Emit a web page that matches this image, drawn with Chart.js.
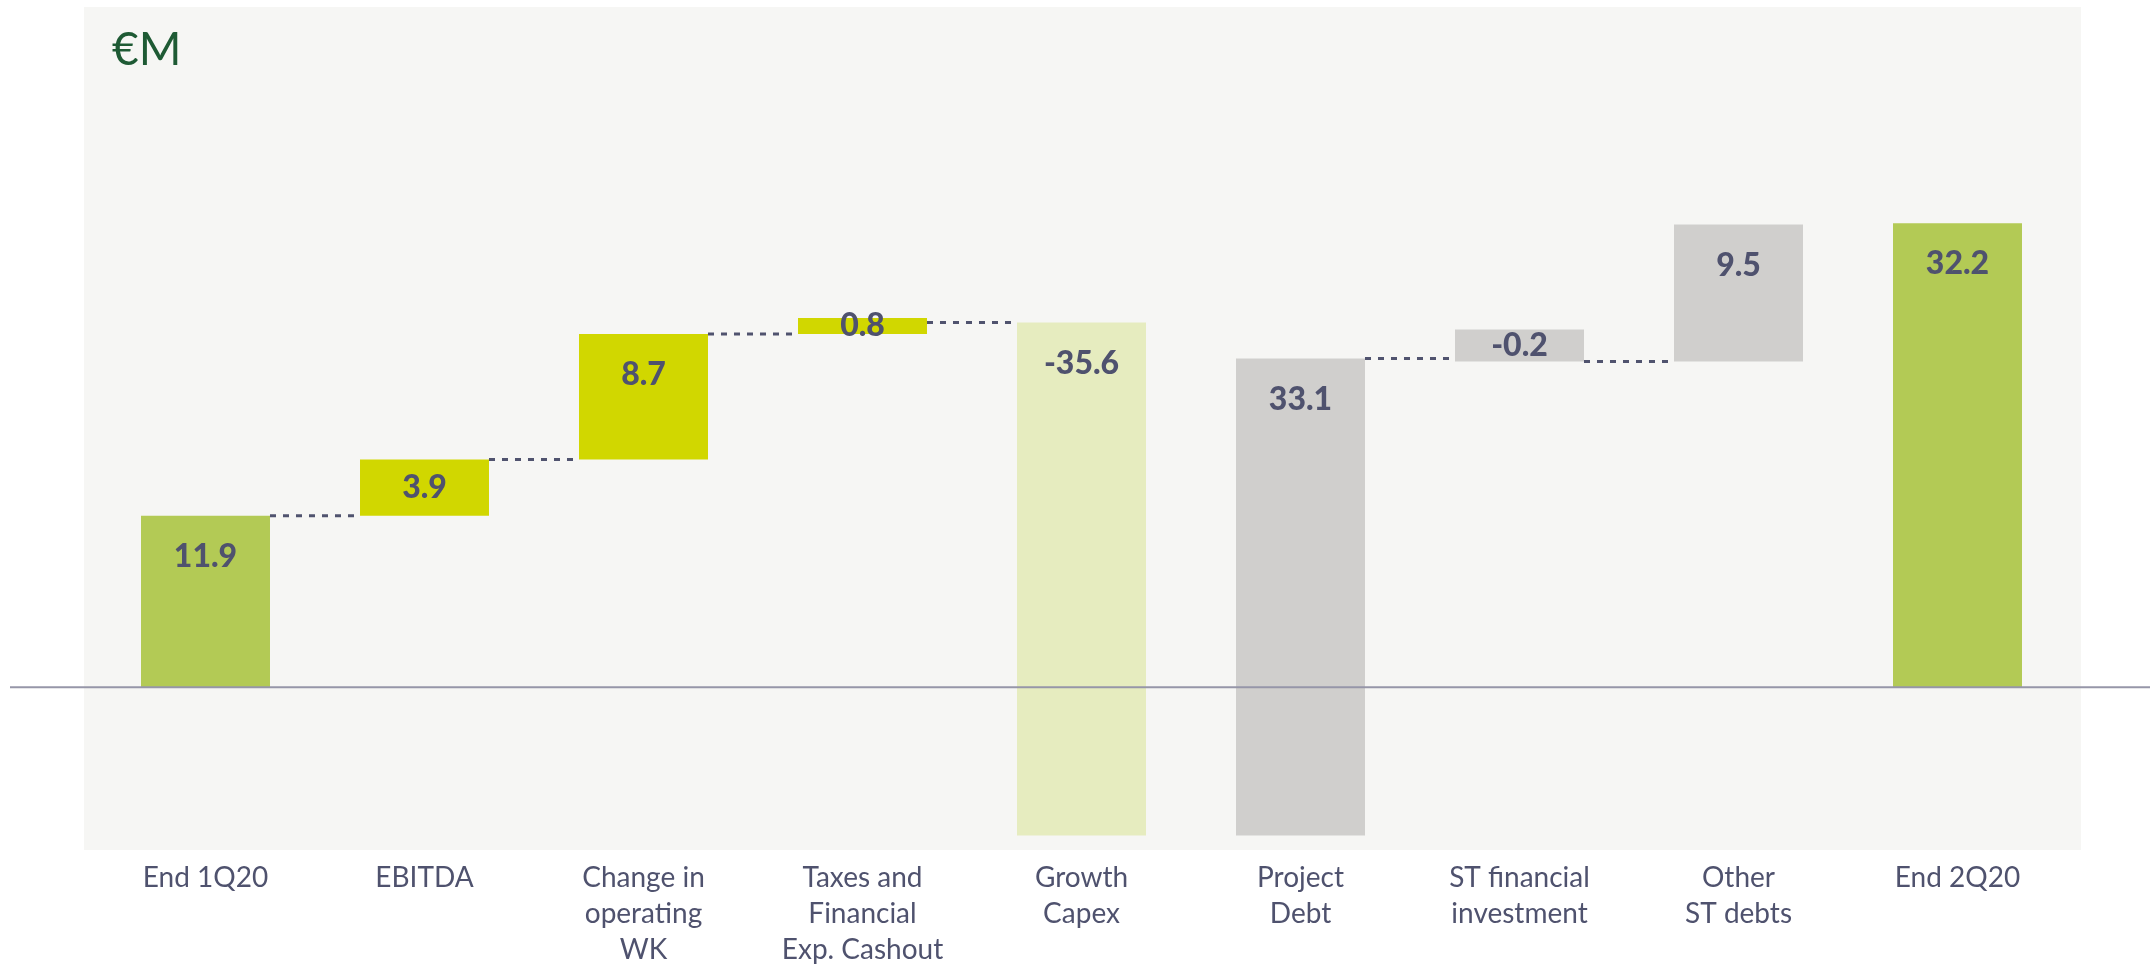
<!DOCTYPE html>
<html>
<head>
<meta charset="utf-8">
<script src="https://cdn.jsdelivr.net/npm/chart.js@4.4.1/dist/chart.umd.min.js"></script>
<style>
  html, body { margin: 0; padding: 0; background: #ffffff; }
</style>
</head>
<body>
<canvas id="myChart" width="2150" height="964"></canvas>
<script>
// categories (multi-line tick labels)
let categories = [
    ['End 1Q20'],
    ['EBITDA'],
    ['Change in', 'operating', 'WK'],
    ['Taxes and', 'Financial', 'Exp. Cashout'],
    ['Growth', 'Capex'],
    ['Project', 'Debt'],
    ['ST financial', 'investment'],
    ['Other', 'ST debts'],
    ['End 2Q20']
];
// values in €M
let changes = [11.9, 3.9, 8.7, 0.8, -35.6, 33.1, -0.2, 9.5, 32.2];
// bar kind: total bars start at zero, others float on the running level
let kinds = ['total', 'flow', 'flow', 'flow', 'capex', 'fin', 'fin', 'fin', 'total'];
// draw a dotted connector after this bar?
let connectAfter = [true, true, true, true, false, true, true, false, false];

let kindColors = {
    total: '#b3ca55',
    flow: '#d1d700',
    capex: '#e6ecbf',
    fin: '#d0cfcd'
};

// build the floating ranges of the waterfall
let ranges = [];
let level = 0;
for (let i = 0; i < changes.length; i++) {
    if (kinds[i] === 'total') {
        ranges.push([0, changes[i]]);
        level = changes[i];
    } else {
        ranges.push([level, level + changes[i]]);
        level = level + changes[i];
    }
}

function rangesFor(kind) {
    return ranges.map((r, i) => kinds[i] === kind ? r : null);
}

let textColor = '#4f526e';

let waterfallDeco = {
    id: 'waterfallDeco',
    beforeDraw(chart) {
        let {ctx, chartArea} = chart;
        ctx.save();
        ctx.fillStyle = '#f6f6f4';
        ctx.fillRect(chartArea.left - 12, chartArea.top, chartArea.width + 26, chartArea.height);
        ctx.restore();
    },
    afterDatasetsDraw(chart) {
        let {ctx} = chart;
        let yScale = chart.scales.y;

        // find the element drawn for each category
        let elems = [];
        chart.data.datasets.forEach((ds, di) => {
            let meta = chart.getDatasetMeta(di);
            ds.data.forEach((d, i) => {
                if (d !== null) elems[i] = meta.data[i];
            });
        });

        ctx.save();
        // zero line
        let y0 = yScale.getPixelForValue(0);
        ctx.strokeStyle = '#9696a8';
        ctx.lineWidth = 2;
        ctx.beginPath();
        ctx.moveTo(10, y0);
        ctx.lineTo(chart.width, y0);
        ctx.stroke();

        // dotted connectors
        ctx.strokeStyle = '#50536e';
        ctx.lineWidth = 3;
        ctx.setLineDash([6, 7]);
        for (let i = 0; i < elems.length - 1; i++) {
            if (!connectAfter[i]) continue;
            let a = elems[i], b = elems[i + 1];
            let y = yScale.getPixelForValue(ranges[i][1]);
            ctx.beginPath();
            ctx.moveTo(a.x + a.width / 2, y);
            ctx.lineTo(b.x - b.width / 2, y);
            ctx.stroke();
        }
        ctx.setLineDash([]);

        // value labels
        ctx.fillStyle = textColor;
        ctx.font = '900 32px Lato';
        ctx.textAlign = 'center';
        ctx.textBaseline = 'middle';
        elems.forEach((el, i) => {
            let top = Math.min(el.y, el.base);
            let bottom = Math.max(el.y, el.base);
            let y = Math.min(top + 41, (top + bottom) / 2);
            ctx.fillText(changes[i].toFixed(1), el.x, y);
        });

        // unit
        ctx.fillStyle = '#1e5a34';
        ctx.font = '46px Lato';
        ctx.textAlign = 'left';
        ctx.textBaseline = 'alphabetic';
        ctx.fillText('€M', 112, 65);
        ctx.restore();
    }
};

let myChart = document.getElementById('myChart').getContext('2d');

let cashChart = new Chart(myChart, {
    type: 'bar',
    data: {
        labels: categories,
        datasets: [
            { data: rangesFor('total'), backgroundColor: kindColors.total },
            { data: rangesFor('flow'), backgroundColor: kindColors.flow, minBarLength: 16 },
            { data: rangesFor('capex'), backgroundColor: kindColors.capex },
            { data: rangesFor('fin'), backgroundColor: kindColors.fin, minBarLength: 32 }
        ]
    },
    options: {
        responsive: false,
        animation: false,
        devicePixelRatio: 1,
        grouped: false,
        categoryPercentage: 1.0,
        barPercentage: 0.589,
        layout: {
            padding: { left: 96, right: 83, top: 7, bottom: 0 }
        },
        plugins: {
            legend: { display: false },
            tooltip: { enabled: false }
        },
        scales: {
            x: {
                grid: { display: false, drawTicks: false },
                border: { display: false },
                ticks: {
                    color: textColor,
                    font: { family: 'Lato', size: 28, lineHeight: 1.28 },
                    padding: 10,
                    autoSkip: false,
                    maxRotation: 0
                },
                afterFit(scale) { scale.height = 114; }
            },
            y: {
                display: false,
                min: -11.3,
                max: 47.2
            }
        }
    },
    plugins: [waterfallDeco]
});
</script>
</body>
</html>
